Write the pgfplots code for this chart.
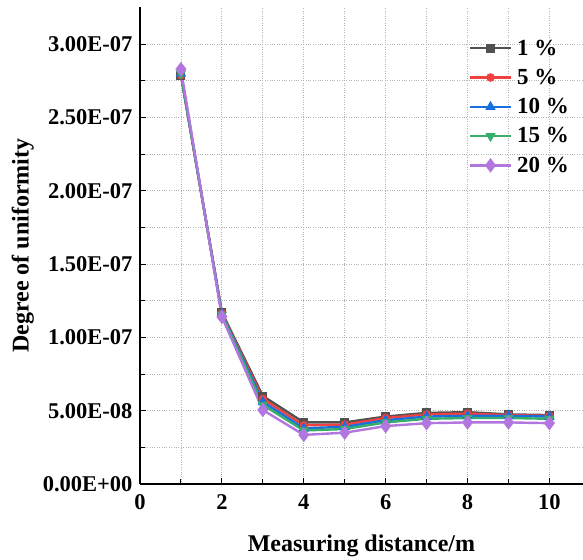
\documentclass[border=0pt]{standalone}
\usepackage{pgfplots}
\pgfplotsset{compat=1.18}
\usepackage{fontspec}
\setmainfont{Liberation Serif}
\definecolor{cBlack}{HTML}{515151}
\definecolor{cRed}{HTML}{F14040}
\definecolor{cBlue}{HTML}{1A6FDF}
\definecolor{cGreen}{HTML}{37AD6B}
\definecolor{cPurple}{HTML}{B177DE}
\begin{document}
\begin{tikzpicture}
\begin{axis}[
  name=ax,
  scale only axis,
  width=443pt, height=477pt,
  xmin=0, xmax=10.82,
  ymin=0, ymax=3.254e-7,
  axis x line=bottom, axis y line=left,
  axis line style={line width=1.3pt,-},
  xtick={0,2,4,6,8,10},
  minor xtick={1,3,5,7,9},
  ytick={0,5e-8,1e-7,1.5e-7,2e-7,2.5e-7,3e-7},
  minor ytick={2.5e-8,7.5e-8,1.25e-7,1.75e-7,2.25e-7,2.75e-7},
  yticklabels={0.00E+00,5.00E-08,1.00E-07,1.50E-07,2.00E-07,2.50E-07,3.00E-07},
  scaled y ticks=false,
  /pgf/number format/assume math mode=true,
  tick align=inside,
  major tick length=6pt, minor tick length=5pt,
  every tick/.style={black, line width=1pt},
  grid=both,
  major grid style={gray!60, dotted, line width=0.8pt},
  minor grid style={gray!60, dotted, line width=0.8pt},
  tick label style={font=\fontsize{22.5}{22.5}\selectfont\bfseries},
  xticklabel style={yshift=-7pt},
  yticklabel style={xshift=-4pt},
  xlabel={Measuring distance/m},
  ylabel={Degree of uniformity},
  label style={font=\fontsize{24}{24}\selectfont\bfseries},
  xlabel style={yshift=-18pt},
  ylabel style={yshift=2pt},
  legend style={draw=none, fill=none, at={(0.735,0.94)}, anchor=north west,
    font=\fontsize{23}{23}\selectfont\bfseries, row sep=8.5pt,
    /tikz/every odd column/.append style={column sep=3pt}},
  legend cell align=left,
  legend image code/.code={\draw[mark repeat=2,mark phase=2] plot coordinates {(0pt,0pt) (20.5pt,0pt) (41pt,0pt)};},
]
\addplot[color=cBlack, line width=2.4pt, mark=square*, mark size=4pt, mark options={line width=1pt}] coordinates {
(1,2.79e-7) (2,1.17e-7) (3,6.0e-8) (4,4.2e-8) (5,4.2e-8) (6,4.6e-8) (7,4.85e-8) (8,4.9e-8) (9,4.75e-8) (10,4.7e-8)};
\addlegendentry{1 \%}
\addplot[color=cRed, line width=2.4pt, mark=*, mark size=3.8pt, mark options={line width=1pt}] coordinates {
(1,2.79e-7) (2,1.165e-7) (3,5.8e-8) (4,4.0e-8) (5,4.05e-8) (6,4.5e-8) (7,4.75e-8) (8,4.8e-8) (9,4.7e-8) (10,4.65e-8)};
\addlegendentry{5 \%}
\addplot[color=cBlue, line width=2.4pt, mark=triangle*, mark size=5pt, mark options={line width=1pt}] coordinates {
(1,2.80e-7) (2,1.16e-7) (3,5.6e-8) (4,3.8e-8) (5,3.9e-8) (6,4.35e-8) (7,4.6e-8) (8,4.65e-8) (9,4.65e-8) (10,4.6e-8)};
\addlegendentry{10 \%}
\addplot[color=cGreen, line width=2.4pt, mark=triangle*, mark size=5pt, mark options={rotate=180,line width=1pt}] coordinates {
(1,2.80e-7) (2,1.155e-7) (3,5.4e-8) (4,3.65e-8) (5,3.75e-8) (6,4.2e-8) (7,4.45e-8) (8,4.5e-8) (9,4.5e-8) (10,4.45e-8)};
\addlegendentry{15 \%}
\addplot[color=cPurple, line width=2.4pt, mark=diamond*, mark size=6.5pt, mark options={line width=1pt}] coordinates {
(1,2.83e-7) (2,1.14e-7) (3,5.05e-8) (4,3.35e-8) (5,3.5e-8) (6,3.95e-8) (7,4.15e-8) (8,4.2e-8) (9,4.2e-8) (10,4.15e-8)};
\addlegendentry{20 \%}
\end{axis}
\pgfresetboundingbox
\path ([xshift=-140pt,yshift=-75pt]ax.south west) rectangle ([yshift=7pt]ax.north east);
\end{tikzpicture}
\end{document}
